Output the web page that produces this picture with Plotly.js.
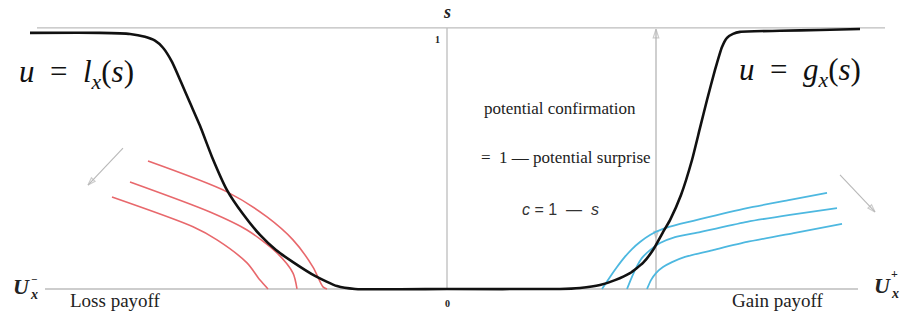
<!DOCTYPE html>
<html>
<head>
<meta charset="utf-8">
<script src="https://cdn.plot.ly/plotly-3.0.1.min.js"></script>
<style>html,body{margin:0;padding:0;background:#fff;}#chart{width:901px;height:313px;}</style>
</head>
<body>
<div id="chart"></div>
<script>
// Payoff u (horizontal, 0 = reference point) and potential surprise s (vertical, 0..1)
const lossGainU = [-417,-347,-317,-302,-292,-284,-275,-266,-257,-247,-235,-220,-204,-187,-171,-154,-132,-110,-92,0,113,133,153,168,183,196,206,216,223,234,245,253,260,268,275,280,286,293,333,373,413];
const lossGainS = [0.981,0.981,0.977,0.966,0.951,0.924,0.870,0.793,0.713,0.625,0.506,0.379,0.287,0.207,0.149,0.103,0.050,0.011,0,0,0,0.004,0.015,0.034,0.061,0.100,0.149,0.218,0.264,0.360,0.494,0.617,0.724,0.839,0.927,0.962,0.977,0.985,0.989,0.992,0.996];

// Loss indifference curves (red)
const lossU1 = [-299,-220,-180,-154,-134,-124,-120];
const lossS1 = [0.490,0.372,0.276,0.188,0.084,0.008,0];
const lossU2 = [-317,-237,-200,-170,-154,-150];
const lossS2 = [0.410,0.295,0.226,0.138,0.061,0];
const lossU3 = [-335,-254,-230,-200,-187,-179];
const lossS3 = [0.352,0.238,0.188,0.100,0.034,0];

// Gain indifference curves (blue)
const gainU1 = [155,163,170,177,185,193,203,216,233,253,300,343,380];
const gainS1 = [0,0.046,0.084,0.119,0.153,0.180,0.207,0.230,0.249,0.268,0.310,0.341,0.368];
const gainU2 = [180,184,189,195,203,213,228,253,300,343,390];
const gainS2 = [0,0.038,0.080,0.119,0.149,0.176,0.199,0.218,0.257,0.284,0.310];
const gainU3 = [200,204,209,216,225,238,266,300,348,395];
const gainS3 = [0,0.034,0.061,0.084,0.103,0.123,0.149,0.180,0.215,0.249];

// Frame lines
const baseU = [-402,411], baseS = [0,0];
const topU = [-410,438], topS = [1,1];
const midU = [0,0], midS = [0,1];
const refU = [209,209], refS = [0,0.995];

// Direction arrows [tail, head]
const leftArrowU = [-324,-359], leftArrowS = [0.540,0.398];
const rightArrowU = [393,428], rightArrowS = [0.437,0.295];
const downTickU = [209,209], downTickS = [0.26,0.195];

const grey = '#bdbdbd';
const red = '#e8686c';
const blue = '#4db8e0';

function line(x,y,color,width,smooth){
  return {x:x,y:y,type:'scatter',mode:'lines',hoverinfo:'skip',
    line:{color:color,width:width,shape:smooth?'spline':'linear',smoothing:smooth||0}};
}
function arrowTrace(x,y,color,width,size,showLine){
  return {x:x,y:y,type:'scatter',mode:showLine?'lines+markers':'markers',hoverinfo:'skip',
    line:{color:color,width:width},
    marker:{symbol:'arrow-open',angleref:'previous',size:[0,size],color:color,
      line:{color:color,width:1.2}}};
}

const traces = [
  line(baseU,baseS,grey,1.3,0),
  line(topU,topS,grey,1.3,0),
  line(midU,midS,grey,1.3,0),
  arrowTrace(refU,refS,'#b5b5b5',1.3,9,true),
  arrowTrace(downTickU,downTickS,'#b5b5b5',1,7,false),
  arrowTrace(leftArrowU,leftArrowS,'#b8b8b8',1.1,8,true),
  arrowTrace(rightArrowU,rightArrowS,'#b8b8b8',1.1,8,true),
  line(lossU1,lossS1,red,1.6,0.8),
  line(lossU2,lossS2,red,1.6,0.8),
  line(lossU3,lossS3,red,1.6,0.8),
  line(gainU1,gainS1,blue,1.8,0.5),
  line(gainU2,gainS2,blue,1.8,0.5),
  line(gainU3,gainS3,blue,1.8,0.5),
  line(lossGainU,lossGainS,'#111',2.6,0.5)
];

const serif = 'Liberation Serif, Times New Roman, serif';
function txt(x,y,text,size,opts){
  return Object.assign({x:x,y:y,xref:'x',yref:'y',text:text,showarrow:false,
    font:{family:serif,size:size,color:'#222'},xanchor:'center',yanchor:'middle'},opts||{});
}

const mathFont = {family:serif,size:31,color:'#111'};
const annotations = [
  txt(0,1.061,'<b><i>s</i></b>',18),
  txt(-5,0.954,'<b>1</b>',10,{xanchor:'right'}),
  txt(0,-0.054,'<b>0</b>',10),
  txt(-430,0.822,'<i>u</i>  =  <i>l</i><sub><i>x</i></sub>(<i>s</i>)',31,{xanchor:'left',font:mathFont}),
  txt(290,0.832,'<i>u</i>  =  <i>g</i><sub><i>x</i></sub>(<i>s</i>)',31,{xanchor:'left',font:mathFont}),
  txt(113,0.693,'potential confirmation',17),
  txt(119,0.502,'=  1 — potential surprise',17),
  txt(113,0.303,'<i>c</i> = 1  —  <i>s</i>',16,{font:{family:'Liberation Sans, Arial, sans-serif',size:16,color:'#333'}}),
  txt(-379,-0.046,'Loss payoff',19,{xanchor:'left'}),
  txt(283,-0.046,'Gain payoff',19,{xanchor:'left'}),
  txt(-436,0.008,'<b><i>U</i></b>',22,{xanchor:'left'}),
  txt(-418,0.038,'<b>−</b>',11,{xanchor:'left'}),
  txt(-419,-0.022,'<b><i>x</i></b>',14,{xanchor:'left'}),
  txt(425,0.014,'<b><i>U</i></b>',22,{xanchor:'left'}),
  txt(442,0.058,'<b>+</b>',12,{xanchor:'left'}),
  txt(442,-0.018,'<b><i>x</i></b>',14,{xanchor:'left'})
];

const layout = {
  width:901,height:313,
  margin:{l:0,r:0,t:0,b:0,pad:0},
  paper_bgcolor:'#ffffff',plot_bgcolor:'#ffffff',
  showlegend:false,
  xaxis:{range:[-447,454],visible:false,fixedrange:true},
  yaxis:{range:[-0.092,1.107],visible:false,fixedrange:true},
  annotations:annotations
};

Plotly.newPlot('chart',traces,layout,{staticPlot:true,displayModeBar:false});
</script>
</body>
</html>
